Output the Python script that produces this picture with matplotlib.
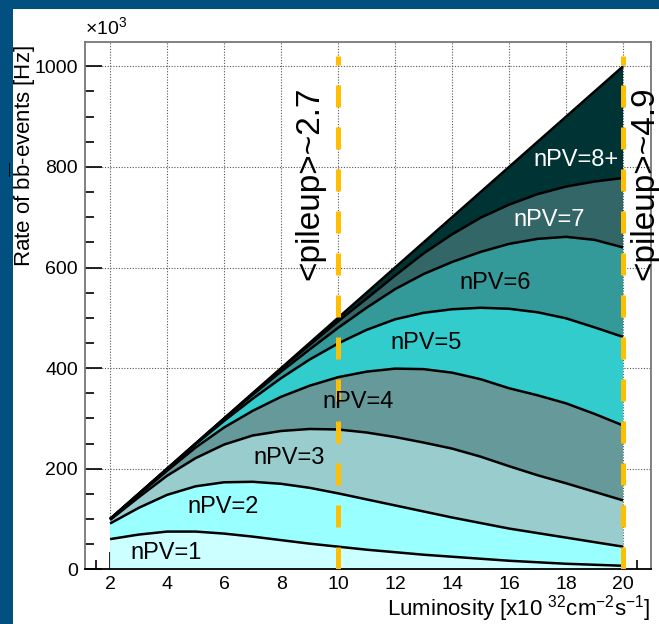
import numpy as np
import matplotlib.pyplot as plt
from matplotlib.patches import Rectangle
from matplotlib.ticker import MultipleLocator

plt.rcParams['font.family'] = ['Liberation Sans', 'DejaVu Sans']
plt.rcParams['mathtext.default'] = 'regular'

# luminosity points [x10^32 cm^-2 s^-1]
lumi = np.arange(2, 21)

# bb-event rate per number of primary vertices [x10^3 Hz]
npv1 = [60, 69, 75, 75, 71, 65, 58, 51, 45, 39, 34, 29, 25, 21, 17, 14, 11, 9, 7]
npv2 = [31, 53, 73, 90, 102, 109, 112, 111, 106, 100, 93, 86, 78, 71, 64, 58, 52, 45, 38]
npv3 = [7, 21, 38, 56, 75, 92, 105, 117, 127, 133, 136, 137, 137, 132, 124, 115, 108, 100, 92]
npv4 = [1.6, 5, 10, 21, 34, 49, 68, 86, 104, 121, 136, 146, 151, 154, 155, 159, 159, 155, 149]
npv5 = [0.3, 1.5, 3, 6.5, 13, 24, 37, 52, 67, 83, 98, 112, 126, 142, 158, 165, 169, 172, 176]
npv6 = [0.1, 0.4, 0.8, 1.2, 4, 8, 13, 20, 31, 44, 60, 77, 94, 111, 129, 146, 162, 174, 178]
npv7 = [0, 0.1, 0.2, 0.3, 0.8, 2.4, 5.5, 9, 13, 18, 27, 41, 55, 68, 78, 89, 100, 116, 138]
npv8 = [0, 0, 0, 0, 0.2, 0.6, 1.5, 4, 7, 12, 16, 22, 34, 51, 75, 104, 139, 179, 222]

series = [npv1, npv2, npv3, npv4, npv5, npv6, npv7, npv8]
names = ['nPV=1', 'nPV=2', 'nPV=3', 'nPV=4', 'nPV=5', 'nPV=6', 'nPV=7', 'nPV=8+']
colors = ['#ccffff', '#99ffff', '#99cccc', '#669999',
          '#33cccc', '#339999', '#336666', '#003333']
text_colors = ['black'] * 6 + ['white'] * 2
label_x = [3.95, 5.95, 8.3, 10.7, 13.1, 15.5, 17.4, 18.35]
label_y = [32, 123, 221, 332, 449, 569, 694, 813]

# mean pileup markers
pileup_lumi = [10, 20]
pileup_text = ['<pileup>~2.7', '<pileup>~4.9']
pileup_text_x = [9.02, 20.75]

fig = plt.figure(figsize=(6.59, 6.24), dpi=100, facecolor='#02507f')
fig.patches.append(Rectangle((13 / 659, 0), 1, 1 - 9 / 624, transform=fig.transFigure,
                             facecolor='white', edgecolor='none', zorder=-10))
ax = fig.add_axes([85 / 659, 1 - 569.3 / 624, 565.7 / 659, 527.6 / 624])

# stack the contributions and draw each band with its upper edge
cum = np.cumsum(np.array(series, dtype=float), axis=0)
lower = np.zeros(len(lumi))
for upper, col in zip(cum, colors):
    ax.fill_between(lumi, lower, upper, facecolor=col, edgecolor='none', zorder=2)
    lower = upper
for upper in cum:
    ax.plot(lumi, upper, color='black', lw=1.8, zorder=3, solid_capstyle='butt')

for name, x, y, tc in zip(names, label_x, label_y, text_colors):
    ax.text(x, y, name, color=tc, fontsize=17, ha='center', va='center', zorder=5)

for x, t, tx in zip(pileup_lumi, pileup_text, pileup_text_x):
    ax.plot([x, x], [0, 1020], color='#ffbf00', lw=3.6, ls=(0, (4.4, 4.0)), zorder=4)
    ax.text(tx, 767, t, rotation=90, fontsize=24, ha='center', va='center',
            zorder=5, clip_on=False)

ax.set_xlim(1.12, 20.97)
ax.set_ylim(0, 1049)
ax.xaxis.set_major_locator(MultipleLocator(2))
ax.xaxis.set_minor_locator(MultipleLocator(0.5))
ax.yaxis.set_major_locator(MultipleLocator(200))
ax.yaxis.set_minor_locator(MultipleLocator(50))
ax.tick_params(which='both', direction='in', top=False, right=False,
               labelsize=14, pad=5, colors='black')
ax.tick_params(which='major', length=12, width=1.2)
ax.tick_params(which='minor', length=6.5, width=1.2)
ax.set_axisbelow(True)
ax.grid(True, which='major', ls=(0, (1, 1.5)), color='#555555', lw=0.8)

for side in ['top', 'left', 'right']:
    ax.spines[side].set_color('#777777')
    ax.spines[side].set_linewidth(1.3)
ax.spines['bottom'].set_color('black')
ax.spines['bottom'].set_linewidth(1.3)

ax.set_ylabel(r'Rate of b$\overline{b}$-events [Hz]', fontsize=16, loc='top')
ax.yaxis.set_label_coords(-0.083, 0.994)
ax.set_xlabel(r'Luminosity [x10 $^{32}$cm$^{-2}$s$^{-1}$]', fontsize=16, loc='right')
ax.xaxis.set_label_coords(1.0, -0.046)
ax.xaxis.label.set_va('top')
ax.text(0, 1.006, r'$\times10^{3}$', transform=ax.transAxes, fontsize=14,
        ha='left', va='bottom')

fig.savefig('out.png', dpi=100, facecolor=fig.get_facecolor())
